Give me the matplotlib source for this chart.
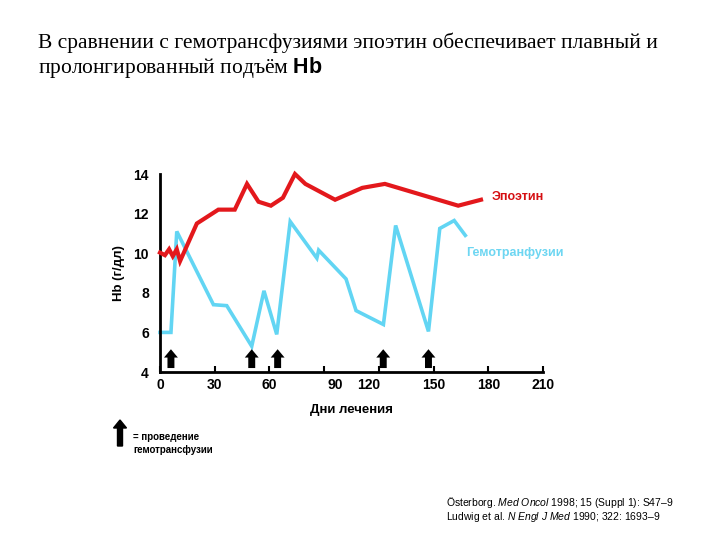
import matplotlib
matplotlib.use("Agg")
import matplotlib.pyplot as plt
from matplotlib.transforms import ScaledTranslation

plt.rcParams['font.family'] = ['Liberation Sans', 'DejaVu Sans']
plt.rcParams['mathtext.fontset'] = 'custom'
plt.rcParams['mathtext.rm'] = 'Liberation Sans'
plt.rcParams['mathtext.it'] = 'Liberation Sans:italic'
plt.rcParams['mathtext.bf'] = 'Liberation Sans:bold'

# Эпоэтин (red)
epo_days = [0, 2.7, 5, 7, 9.2, 11, 20.2, 32, 41, 47.7, 54, 60.8, 67.4, 74, 79.7,
            96, 110.9, 123.3, 163.5, 176]
epo_hb = [10.03, 9.9, 10.2, 9.85, 10.2, 9.6, 11.5, 12.2, 12.2, 13.5, 12.6, 12.4, 12.8,
          14.0, 13.5, 12.7, 13.3, 13.5, 12.4, 12.7]

# Гемотрансфузии (light blue)
tr_days = [0, 6, 9.2, 29.3, 36.6, 50.3, 57, 64, 71.4, 86, 87, 102, 107.5, 122.5,
           129.2, 147.2, 153.4, 161.3, 167.4]
tr_hb = [6.0, 6.0, 11.1, 7.4, 7.35, 5.3, 8.1, 5.9, 11.6, 9.75, 10.15, 8.7, 7.1, 6.4,
         11.4, 6.05, 11.25, 11.65, 10.9]

# days of transfusion (arrows)
arrow_days = [6, 50.3, 64.5, 122.4, 147.2]

x_ticks = [0, 30, 60, 90, 120, 150, 180, 210]
y_ticks = [4, 6, 8, 10, 12, 14]

RED = '#e3181c'
BLUE = '#62d5f3'

fig = plt.figure(figsize=(7.2, 5.4), dpi=100)
ax = fig.add_axes([160 / 720, 1 - 372 / 540, 383 / 720, 198 / 540])

ax.plot(epo_days, epo_hb, color=RED, lw=3, solid_joinstyle='miter', zorder=3, clip_on=False)
ax.plot(tr_days, tr_hb, color=BLUE, lw=2.6, solid_joinstyle='miter', zorder=2, clip_on=False)

for d in arrow_days:
    ax.annotate('', xy=(d, 5.15), xytext=(d, 4.2),
                arrowprops=dict(arrowstyle='simple,head_width=1.0,head_length=0.6,tail_width=0.5',
                                color='black', lw=0, shrinkA=0, shrinkB=0))

ax.set_xlim(0, 210)
ax.set_ylim(4, 14)
ax.set_xticks(x_ticks)
ax.set_xticklabels([str(t) for t in x_ticks], fontweight='bold', fontsize=10)
ax.set_yticks(y_ticks)
ax.set_yticklabels([str(t) for t in y_ticks], fontweight='bold', fontsize=10)
ax.tick_params(axis='x', direction='in', length=4, width=1.5, pad=4)
ax.tick_params(axis='y', length=0, pad=8)
for s in ['top', 'right']:
    ax.spines[s].set_visible(False)
for s in ['left', 'bottom']:
    ax.spines[s].set_linewidth(2)

# the original slide has the 90 and 120 labels shifted
labels = ax.get_xticklabels()
labels[3].set_transform(labels[3].get_transform() + ScaledTranslation(11 / 100, 0, fig.dpi_scale_trans))
labels[4].set_transform(labels[4].get_transform() + ScaledTranslation(-10 / 100, 0, fig.dpi_scale_trans))

ax.set_xlabel('Дни лечения', fontweight='bold', fontsize=9.5, labelpad=9)
ax.set_ylabel('Hb (г/дл)', fontweight='bold', fontsize=9.5, labelpad=6)

ax.text(182, 12.85, 'Эпоэтин', color='#d50f12', fontweight='bold', fontsize=9, va='center')
ax.text(168, 10.0, 'Гемотранфузии', color='#6dd6f2', fontweight='bold', fontsize=9, va='center')

fig.text(38 / 720, 1 - 43 / 540,
         'В сравнении с гемотрансфузиями эпоэтин обеспечивает плавный и',
         family='Liberation Serif', fontsize=15.5, va='center')
fig.text(38 / 720, 1 - 68 / 540, 'пролонгированный подъём $\\mathbf{Hb}$',
         family='Liberation Serif', fontsize=15.5, va='center')

# legend for arrows
fig.patches.append(matplotlib.patches.FancyArrow(
    120 / 720, 1 - 446 / 540, 0, 18 / 540, width=5 / 720, head_width=13 / 720,
    head_length=8 / 540, color='black', transform=fig.transFigure, figure=fig))
fig.text(133 / 720, 1 - 437 / 540, '= проведение', fontweight='bold', fontsize=7, va='center')
fig.text(133 / 720, 1 - 450 / 540, 'гемотрансфузии', fontweight='bold', fontsize=7, va='center')

fig.text(446 / 720, 1 - 503 / 540,
         'Österborg. $\\it{Med\\ Oncol}$ 1998; 15 (Suppl 1): S47–9', fontsize=7.5, va='center')
fig.text(446 / 720, 1 - 517 / 540,
         'Ludwig et al. $\\it{N\\ Engl\\ J\\ Med}$ 1990; 322: 1693–9', fontsize=7.5, va='center')

fig.savefig('out.png', dpi=100)
